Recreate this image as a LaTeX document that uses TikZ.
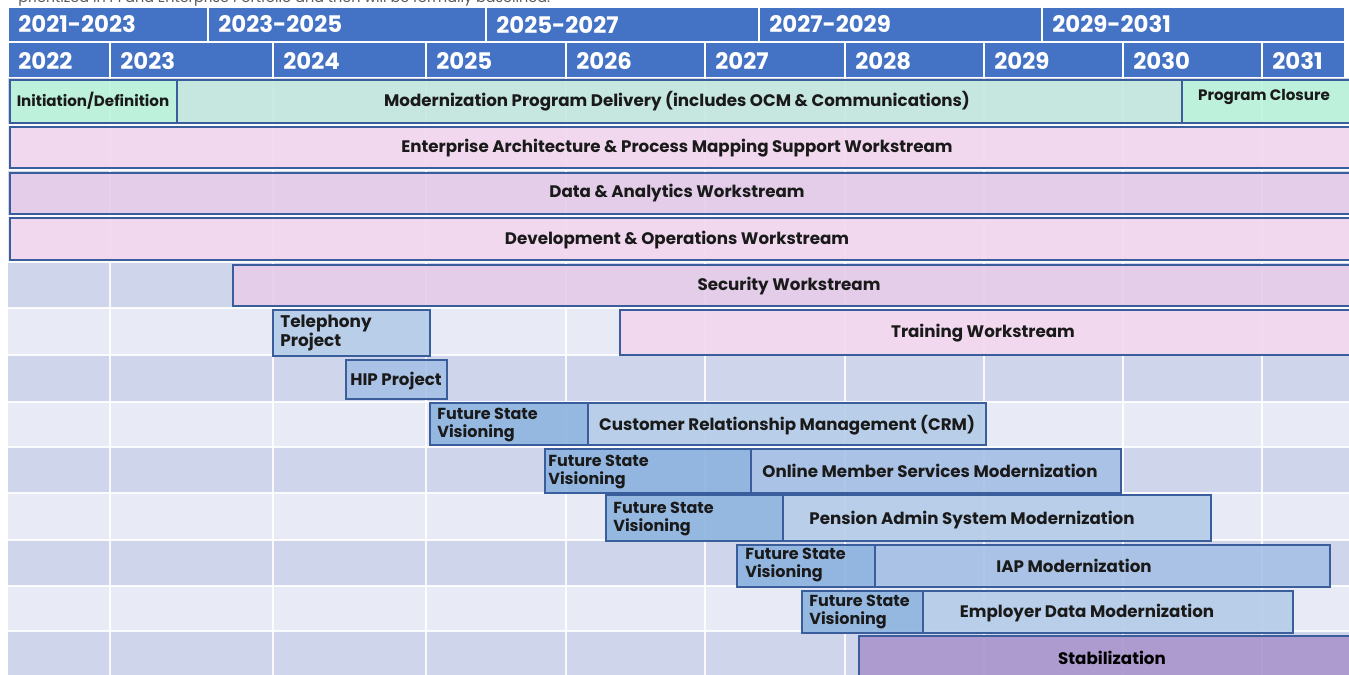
\documentclass[tikz,border=0pt]{standalone}
\usepackage{fontspec}
\setmainfont{Poppins}
\usetikzlibrary{positioning}

\definecolor{hdrblue}{HTML}{4472C4}
\definecolor{barline}{HTML}{3A5E9C}
\definecolor{banddark}{HTML}{CFD5EA}
\definecolor{bandlight}{HTML}{E8EBF5}
\definecolor{mint}{HTML}{BCF5DA}
\definecolor{teal}{HTML}{C6E8E0}
\definecolor{pink}{HTML}{F2D7EE}
\definecolor{lilac}{HTML}{E6CDE9}
\definecolor{skyblue}{HTML}{B4CDE8}
\definecolor{midblue}{HTML}{A6C1E5}
\definecolor{fsvblue}{HTML}{8DB3DF}
\definecolor{stabpurple}{HTML}{AA94CC}
\definecolor{inktext}{HTML}{1A1A1A}

\newcommand\unitpx{0.02cm}
% task bar between two corners, given in pixels
\newcommand\task[6]{%
  \node[task, fill=#6, minimum width={(#4-#2)*\unitpx}, minimum height={(#5-#3)*\unitpx}]
    (#1) at ({(#2+#4)/2},{(#3+#5)/2}) {};}

\tikzset{
  hdrcell/.style={fill=hdrblue, draw=white, line width=1.1pt},
  hdrtext/.style={anchor=west, inner sep=0pt, text=white, font=\fontsize{13}{14}\selectfont\bfseries},
  grid/.style={white, line width=1.1pt, opacity=0.9},
  task/.style={draw=barline, line width=0.9pt, fill opacity=0.9, inner sep=0pt},
  lbl/.style={inner sep=0pt, text=inktext, font=\fontsize{9.5}{11}\selectfont\bfseries},
  small/.style={font=\fontsize{8.6}{10}\selectfont\bfseries},
  fsv/.style={lbl, anchor=west, align=left, font=\fontsize{9.1}{10.4}\selectfont\bfseries},
}

\begin{document}
\begin{tikzpicture}[x=0.02cm, y=-0.02cm]
\useasboundingbox (0,0) rectangle (1349,675);
\clip (0,0) rectangle (1349,675);

% line of text cut by the page top
\node[anchor=base west, inner sep=0pt, text=black!65, font=\fontsize{8.2}{10}\selectfont] (note) at (18,3) {prioritized in PI and Enterprise Portfolio and then will be formally baselined.};

% two header rows
\foreach \a/\b/\t [count=\i] in {8/208/2021-2023, 208/486/2023-2025, 486/759/2025-2027, 759/1042/2027-2029, 1042/1345/2029-2031}{
  \draw[hdrcell] (\a,7) rectangle (\b,42);
  \node[hdrtext] (per\i) at (\a+10,24.5) {\t};
}
\foreach \a/\b/\t in {8/110/2022, 110/273/2023, 273/426/2024, 426/566/2025, 566/705/2026, 705/845/2027, 845/984/2028, 984/1123/2029, 1123/1262/2030, 1262/1345/2031}{
  \draw[hdrcell] (\a,42) rectangle (\b,78);
  \node[hdrtext] (yr\t) at (\a+10,61) {\t};
}

% row bands and grid
\foreach \a/\b/\c in {78/125/banddark, 125/170/bandlight, 170/216/banddark, 216/262/bandlight, 262/308/banddark, 308/355/bandlight, 355/402/banddark, 402/447/bandlight, 447/493/banddark, 493/540/bandlight, 540/586/banddark, 586/631/bandlight, 631/680/banddark}
  \fill[\c] (8,\a) rectangle (1360,\b);
\foreach \y in {125,170,216,262,308,355,402,447,493,540,586,631}
  \draw[grid] (8,\y) -- (1360,\y);
\foreach \x in {110,273,426,566,705,845,984,1123,1262}
  \draw[grid] (\x,78) -- (\x,675);

% program phases and workstreams
\task{init}{10}{80}{177}{123}{mint}
\task{prog}{177}{80}{1182}{123}{teal}
\task{close}{1182}{80}{1360}{123}{mint}
\task{ea}{10}{127}{1360}{168}{pink}
\task{data}{10}{173}{1360}{214}{lilac}
\task{devops}{10}{218}{1360}{260}{pink}
\task{sec}{233}{265}{1360}{306}{lilac}
\task{tel}{273}{310}{430}{356}{skyblue}
\task{train}{620}{310}{1360}{355}{pink}
\task{hip}{346}{360}{447}{399}{midblue}

% projects, each opened by a visioning step
\task{fsva}{430}{403}{588}{445}{fsvblue}
\task{crm}{588}{403}{986}{445}{skyblue}
\task{fsvb}{545}{449}{751}{493}{fsvblue}
\task{oms}{751}{449}{1121}{493}{midblue}
\task{fsvc}{606}{495}{783}{541}{fsvblue}
\task{pas}{783}{495}{1211}{541}{skyblue}
\task{fsvd}{737}{545}{875}{587}{fsvblue}
\task{iap}{875}{545}{1330}{587}{midblue}
\task{fsve}{802}{591}{923}{633}{fsvblue}
\task{edm}{923}{591}{1293}{633}{skyblue}
\task{stab}{859}{636}{1360}{690}{stabpurple}

% labels
\node[lbl, small] (init-l) at (93,101) {Initiation/Definition};
\node[lbl] (prog-l) at (677,101) {Modernization Program Delivery (includes OCM \& Communications)};
\node[lbl, small] (close-l) at (1264,97) {Program Closure};
\node[lbl] (ea-l) at (677,148) {Enterprise Architecture \& Process Mapping Support Workstream};
\node[lbl] (data-l) at (677,193) {Data \& Analytics Workstream};
\node[lbl] (devops-l) at (677,240) {Development \& Operations Workstream};
\node[lbl] (sec-l) at (789,286) {Security Workstream};
\node[fsv, font=\fontsize{9.6}{11}\selectfont\bfseries] (tel-l) at (280,333) {Telephony\\Project};
\node[lbl] (train-l) at (983,333) {Training Workstream};
\node[lbl] (hip-l) at (396,381) {HIP Project};
\node[fsv] (fsva-l) at (437,425) {Future State\\Visioning};
\node[lbl] (crm-l) at (787,425) {Customer Relationship Management (CRM)};
\node[fsv] (fsvb-l) at (548,472) {Future State\\Visioning};
\node[lbl] (oms-l) at (930,471) {Online Member Services Modernization};
\node[fsv] (fsvc-l) at (613,519) {Future State\\Visioning};
\node[lbl] (pas-l) at (972,520) {Pension Admin System Modernization};
\node[fsv] (fsvd-l) at (745,565) {Future State\\Visioning};
\node[lbl] (iap-l) at (1074,566) {IAP Modernization};
\node[fsv] (fsve-l) at (809,612) {Future State\\Visioning};
\node[lbl] (edm-l) at (1087,613) {Employer Data Modernization};
\node[lbl, text=black] (stab-l) at (1112,658) {Stabilization};
\end{tikzpicture}
\end{document}
